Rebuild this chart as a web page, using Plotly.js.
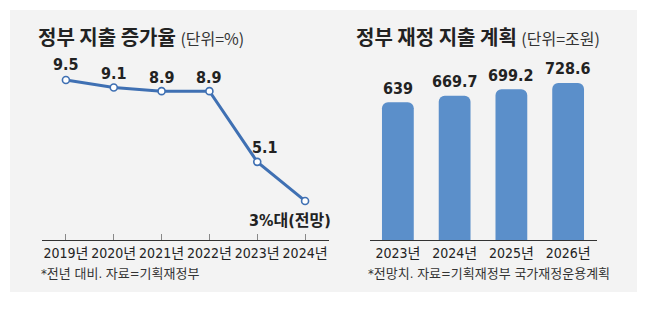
<!DOCTYPE html>
<html><head><meta charset="utf-8">
<script src="https://cdn.plot.ly/plotly-3.0.1.min.js"></script>
<style>html,body{margin:0;padding:0;background:#fff}#c{width:647px;height:324px}</style>
</head><body><div id="c"></div>
<script>
const rateYears = ['2019년','2020년','2021년','2022년','2023년','2024년'];
const rateValues = [9.5, 9.1, 8.9, 8.9, 5.1, 3.0];
const rateLabels = ['9.5','9.1','8.9','8.9','5.1','3%대(전망)'];
const planYears = ['2023년','2024년','2025년','2026년'];
const planValues = [639, 669.7, 699.2, 728.6];
const planLabels = ['639','669.7','699.2','728.6'];

const W = 647, H = 324;
const px = x => x / W, py = y => 1 - y / H;
const FONT = '"Liberation Sans Narrow", "DejaVu Sans Condensed", "Roboto", "Noto Sans CJK KR", sans-serif';
const KFONT = '"Noto Sans CJK KR", sans-serif';

const traces = [
  {type:'scatter', mode:'lines+markers', x:rateYears, y:rateValues, xaxis:'x', yaxis:'y',
   line:{color:'#3f70b3', width:3},
   marker:{size:7, color:'#ffffff', line:{color:'#3f70b3', width:1.6}},
   hoverinfo:'skip', cliponaxis:false},
  {type:'bar', x:planYears, y:planValues, xaxis:'x2', yaxis:'y2',
   marker:{color:'#5b8fca', cornerradius:6}, width:0.56, hoverinfo:'skip'}
];

const annotations = [];
const lShift = [[0,15],[0,14],[0,14],[0,14],[8,14],[-15,-20]];
rateValues.forEach((v,i)=>{
  annotations.push({xref:'x', yref:'y', x:rateYears[i], y:v, text:'<b>'+rateLabels[i]+'</b>', showarrow:false,
    xshift:lShift[i][0], yshift:lShift[i][1],
    font:{family:FONT, size:16, color:'#222'}});
});
planValues.forEach((v,i)=>{
  annotations.push({xref:'x2', yref:'y2', x:planYears[i], y:v, text:'<b>'+planLabels[i]+'</b>', showarrow:false,
    yshift:14, font:{family:FONT, size:16, color:'#222'}});
});
annotations.push(
  {xref:'paper', yref:'paper', x:px(36), y:py(36), xanchor:'left', yanchor:'middle', showarrow:false,
   text:'<b>정부 지출 증가율</b> <span style="font-size:16px;color:#333">(단위=%)</span>',
   font:{family:KFONT, size:20, color:'#222'}},
  {xref:'paper', yref:'paper', x:px(354), y:py(36), xanchor:'left', yanchor:'middle', showarrow:false,
   text:'<b>정부 재정 지출 계획</b> <span style="font-size:16px;color:#333">(단위=조원)</span>',
   font:{family:KFONT, size:20, color:'#222'}},
  {xref:'paper', yref:'paper', x:px(39), y:py(273), xanchor:'left', yanchor:'middle', showarrow:false,
   text:'*전년 대비. 자료=기획재정부', font:{family:FONT, size:13, color:'#333'}},
  {xref:'paper', yref:'paper', x:px(366), y:py(273), xanchor:'left', yanchor:'middle', showarrow:false,
   text:'*전망치. 자료=기획재정부 국가재정운용계획', font:{family:FONT, size:13, color:'#333'}}
);

const yBot = py(240), yTop = py(60);
const layout = {
  width:W, height:H, margin:{l:0,r:0,t:0,b:0},
  paper_bgcolor:'#ffffff', plot_bgcolor:'rgba(0,0,0,0)', showlegend:false,
  shapes:[{type:'rect', xref:'paper', yref:'paper', x0:px(10), x1:px(637), y0:py(292), y1:py(10),
           fillcolor:'#f3f3f3', line:{width:0}, layer:'below'}],
  xaxis:{domain:[px(42), px(329)], type:'category', range:[-0.5,5.5], anchor:'y', tickangle:0,
         showline:true, linecolor:'#333', linewidth:1, ticks:'inside', ticklen:6, tickcolor:'#888',
         tickfont:{family:FONT, size:14, color:'#222'}, showgrid:false, zeroline:false},
  yaxis:{domain:[yBot, yTop], range:[0.9, 10.575], visible:false, showgrid:false, zeroline:false},
  xaxis2:{domain:[px(369.5), px(596.5)], type:'category', range:[-0.5,3.5], anchor:'y2', tickangle:0,
         showline:true, linecolor:'#333', linewidth:1, ticks:'',
         tickfont:{family:FONT, size:14, color:'#222'}, showgrid:false, zeroline:false},
  yaxis2:{domain:[yBot, yTop], range:[0, 835], visible:false, showgrid:false, zeroline:false},
  annotations
};
Plotly.newPlot('c', traces, layout, {staticPlot:true, displayModeBar:false});
</script></body></html>
